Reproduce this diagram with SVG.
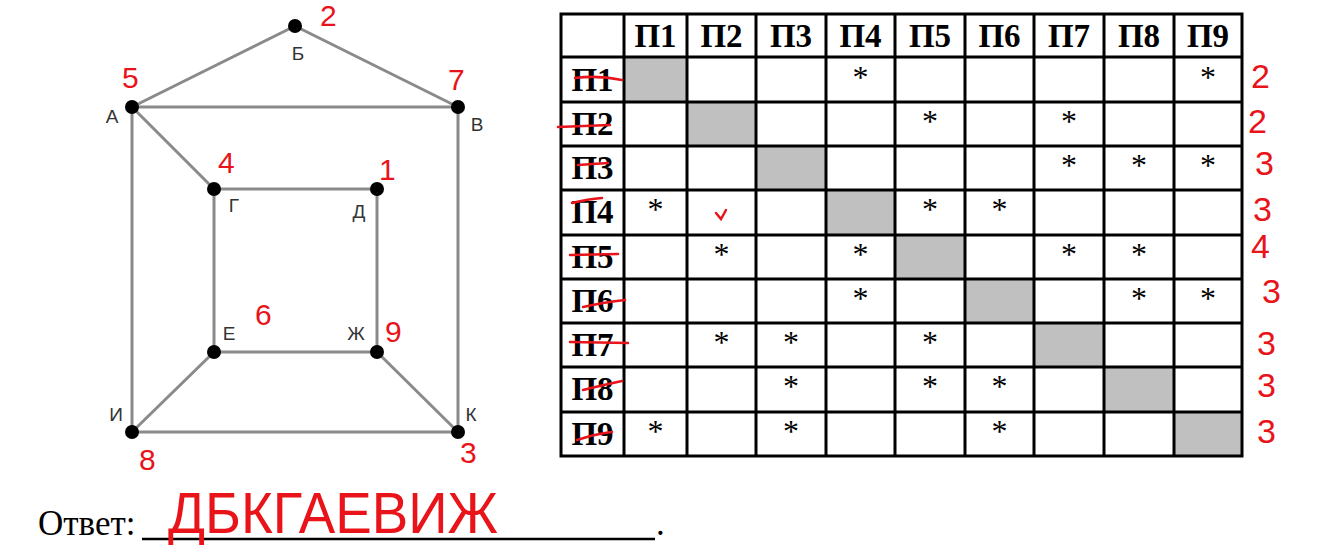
<svg xmlns="http://www.w3.org/2000/svg" width="1343" height="554" viewBox="0 0 1343 554">
<style>
.edge{stroke:#8a8a8a;stroke-width:3;fill:none;stroke-linecap:round}
.dot{fill:#000}
.lbl{font-family:"Liberation Sans",Arial,sans-serif;font-size:19px;fill:#333}
.red{font-family:"Liberation Sans",Arial,sans-serif;fill:#e8141a;font-weight:300}
.hn{font-size:30px}
.hd{font-family:"Liberation Serif","Times New Roman",serif;font-weight:bold;font-size:33px;fill:#000;text-anchor:middle}
.st{font-family:"Liberation Serif","Times New Roman",serif;font-size:32px;fill:#000;text-anchor:middle}
.grid{stroke:#000;stroke-width:3;fill:none}
.gray{fill:#c0c0c0}
.strike{stroke:#e8141a;stroke-width:2.5;fill:none;stroke-linecap:round}
.cnt{font-size:34px}
</style>
<rect width="1343" height="554" fill="#fff"/>

<g id="connectors">
<line class="edge" x1="132" y1="107" x2="295" y2="26"/>
<line class="edge" x1="295" y1="26" x2="458" y2="107"/>
<line class="edge" x1="132" y1="107" x2="458" y2="107"/>
<line class="edge" x1="132" y1="107" x2="214" y2="189"/>
<line class="edge" x1="132" y1="107" x2="132" y2="432"/>
<line class="edge" x1="458" y1="107" x2="458" y2="432"/>
<line class="edge" x1="214" y1="189" x2="377" y2="189"/>
<line class="edge" x1="214" y1="189" x2="214" y2="352"/>
<line class="edge" x1="377" y1="189" x2="377" y2="352"/>
<line class="edge" x1="214" y1="352" x2="377" y2="352"/>
<line class="edge" x1="214" y1="352" x2="132" y2="432"/>
<line class="edge" x1="377" y1="352" x2="458" y2="432"/>
<line class="edge" x1="132" y1="432" x2="458" y2="432"/>
</g>

<g id="node-B">
<circle class="dot" cx="295" cy="26" r="7"/>
<text class="lbl" x="298" y="60" text-anchor="middle">Б</text>
<text class="red hn" x="320" y="26">2</text>
</g>
<g id="node-A">
<circle class="dot" cx="132" cy="107" r="7"/>
<text class="lbl" x="112" y="123" text-anchor="middle">А</text>
<text class="red hn" x="122" y="88">5</text>
</g>
<g id="node-V">
<circle class="dot" cx="458" cy="107" r="7"/>
<text class="lbl" x="477" y="131" text-anchor="middle">В</text>
<text class="red hn" x="448" y="90">7</text>
</g>
<g id="node-G">
<circle class="dot" cx="214" cy="189" r="7"/>
<text class="lbl" x="234" y="212" text-anchor="middle">Г</text>
<text class="red hn" x="218" y="173">4</text>
</g>
<g id="node-D">
<circle class="dot" cx="377" cy="189" r="7"/>
<text class="lbl" x="359" y="218" text-anchor="middle">Д</text>
<text class="red hn" x="379" y="180">1</text>
</g>
<g id="node-E">
<circle class="dot" cx="214" cy="352" r="7"/>
<text class="lbl" x="229" y="340" text-anchor="middle">Е</text>
<text class="red hn" x="255" y="325">6</text>
</g>
<g id="node-Zh">
<circle class="dot" cx="377" cy="352" r="7"/>
<text class="lbl" x="356" y="340" text-anchor="middle">Ж</text>
<text class="red hn" x="385" y="342">9</text>
</g>
<g id="node-I">
<circle class="dot" cx="132" cy="432" r="7"/>
<text class="lbl" x="116" y="421" text-anchor="middle">И</text>
<text class="red hn" x="139" y="470">8</text>
</g>
<g id="node-K">
<circle class="dot" cx="458" cy="432" r="7"/>
<text class="lbl" x="471" y="421" text-anchor="middle">К</text>
<text class="red hn" x="460" y="463">3</text>
</g>

<g id="table">
<rect class="gray" x="624" y="57" width="63" height="45"/>
<rect class="gray" x="687" y="102" width="69" height="44"/>
<rect class="gray" x="756" y="146" width="70" height="44"/>
<rect class="gray" x="826" y="190" width="69" height="45"/>
<rect class="gray" x="895" y="235" width="70" height="44"/>
<rect class="gray" x="965" y="279" width="69" height="44"/>
<rect class="gray" x="1034" y="323" width="70" height="44"/>
<rect class="gray" x="1104" y="367" width="70" height="45"/>
<rect class="gray" x="1174" y="412" width="68" height="44"/>
<path class="grid" d="M561 14H1242V456H561Z M561 57H1242 M561 102H1242 M561 146H1242 M561 190H1242 M561 235H1242 M561 279H1242 M561 323H1242 M561 367H1242 M561 412H1242 M624 14V456 M687 14V456 M756 14V456 M826 14V456 M895 14V456 M965 14V456 M1034 14V456 M1104 14V456 M1174 14V456"/>

<text class="hd" x="655.5" y="47">П1</text>
<text class="hd" x="721.5" y="47">П2</text>
<text class="hd" x="791" y="47">П3</text>
<text class="hd" x="860.5" y="47">П4</text>
<text class="hd" x="930" y="47">П5</text>
<text class="hd" x="999.5" y="47">П6</text>
<text class="hd" x="1069" y="47">П7</text>
<text class="hd" x="1139" y="47">П8</text>
<text class="hd" x="1208" y="47">П9</text>

<text class="hd" x="592.5" y="91">П1</text>
<text class="hd" x="592.5" y="135">П2</text>
<text class="hd" x="592.5" y="179">П3</text>
<text class="hd" x="592.5" y="223">П4</text>
<text class="hd" x="592.5" y="268">П5</text>
<text class="hd" x="592.5" y="312">П6</text>
<text class="hd" x="592.5" y="356">П7</text>
<text class="hd" x="592.5" y="400">П8</text>
<text class="hd" x="592.5" y="445">П9</text>

<text class="st" x="860.5" y="88">*</text>
<text class="st" x="1208" y="88">*</text>
<text class="st" x="930" y="132">*</text>
<text class="st" x="1069" y="132">*</text>
<text class="st" x="1069" y="176">*</text>
<text class="st" x="1139" y="176">*</text>
<text class="st" x="1208" y="176">*</text>
<text class="st" x="655.5" y="220">*</text>
<text class="st" x="930" y="220">*</text>
<text class="st" x="999.5" y="220">*</text>
<text class="st" x="721.5" y="265">*</text>
<text class="st" x="860.5" y="265">*</text>
<text class="st" x="1069" y="265">*</text>
<text class="st" x="1139" y="265">*</text>
<text class="st" x="860.5" y="309">*</text>
<text class="st" x="1139" y="309">*</text>
<text class="st" x="1208" y="309">*</text>
<text class="st" x="721.5" y="353">*</text>
<text class="st" x="791" y="353">*</text>
<text class="st" x="930" y="353">*</text>
<text class="st" x="791" y="397">*</text>
<text class="st" x="930" y="397">*</text>
<text class="st" x="999.5" y="397">*</text>
<text class="st" x="655.5" y="442">*</text>
<text class="st" x="791" y="442">*</text>
<text class="st" x="999.5" y="442">*</text>
</g>

<g id="annotations">
<path class="strike" d="M575 78Q598 75 622 80"/>
<path class="strike" d="M558 127L610 125"/>
<path class="strike" d="M578 165L608 163"/>
<path class="strike" d="M572 203Q588 199 602 198"/>
<path class="strike" d="M570 255L618 254"/>
<path class="strike" d="M583 307Q605 302 625 300"/>
<path class="strike" d="M570 342L628 343"/>
<path class="strike" d="M583 390Q603 385 622 381"/>
<path class="strike" d="M577 440Q595 434 612 432"/>
<path class="strike" d="M716 213L721 219L726 210"/>
<text class="red cnt" x="1251" y="88">2</text>
<text class="red cnt" x="1248" y="133">2</text>
<text class="red cnt" x="1255" y="175">3</text>
<text class="red cnt" x="1253" y="221">3</text>
<text class="red cnt" x="1251" y="258">4</text>
<text class="red cnt" x="1262" y="303">3</text>
<text class="red cnt" x="1257" y="355">3</text>
<text class="red cnt" x="1257" y="397">3</text>
<text class="red cnt" x="1257" y="443">3</text>
</g>

<g id="answer">
<text x="38" y="535" font-family="'Liberation Serif','Times New Roman',serif" font-size="35" fill="#000">Ответ:</text>
<line x1="142" y1="539" x2="655" y2="539" stroke="#000" stroke-width="2.5"/>
<text x="656" y="535" font-family="'Liberation Serif','Times New Roman',serif" font-size="35" fill="#000">.</text>
<text class="red" x="168" y="533" font-size="58" textLength="330" lengthAdjust="spacingAndGlyphs">ДБКГАЕВИЖ</text>
</g>
</svg>
